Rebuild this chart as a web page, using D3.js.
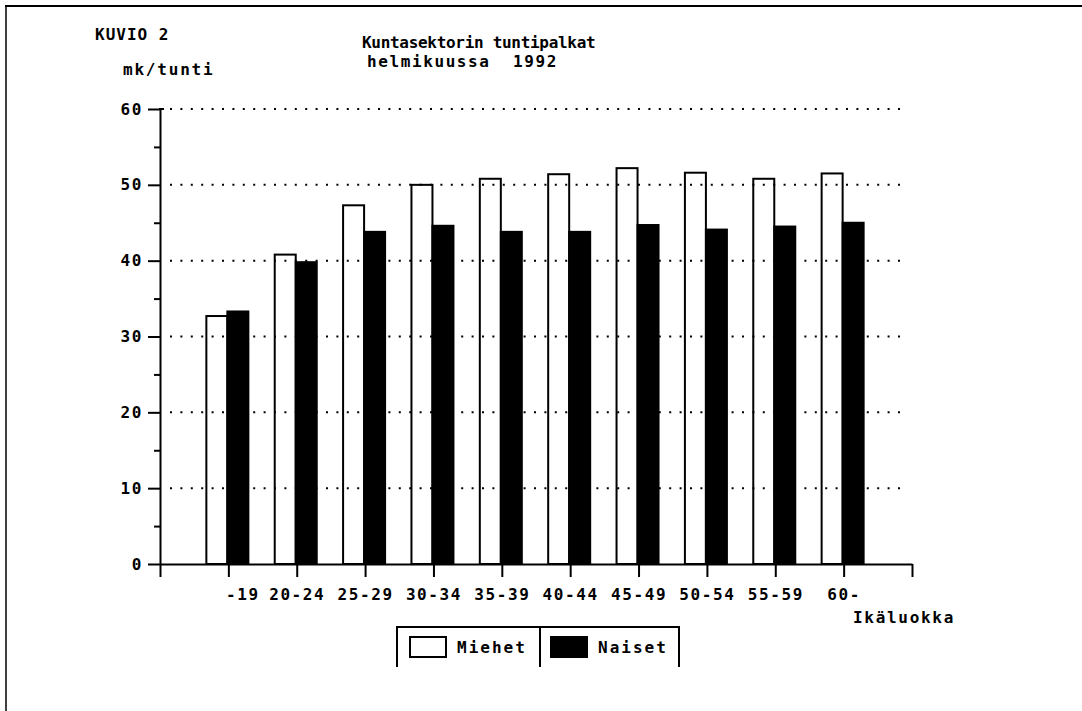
<!DOCTYPE html>
<html>
<head>
<meta charset="utf-8">
<script src="https://cdn.jsdelivr.net/npm/d3@7"></script>
<style>
  body { margin: 0; background: #fff; }
  svg text { font-family: "DejaVu Sans Mono", monospace; font-weight: bold; fill: #000; white-space: pre; }
</style>
</head>
<body>
<svg id="chart" width="1082" height="711"></svg>
<script>
//age groups along the x axis
let categories = ['-19', '20-24', '25-29', '30-34', '35-39', '40-44', '45-49', '50-54', '55-59', '60-'];
//hourly pay, mk per hour
let miehet = [32.7, 40.8, 47.3, 50.0, 50.8, 51.4, 52.2, 51.6, 50.8, 51.5];
let naiset = [33.3, 39.8, 43.8, 44.6, 43.8, 43.8, 44.7, 44.1, 44.5, 45.0];
let seriesNames = ['Miehet', 'Naiset'];
let seriesFill = ['#fff', '#000'];
let yTicks = [0, 10, 20, 30, 40, 50, 60];
let yMinorTicks = [5, 15, 25, 35, 45, 55];

let svg = d3.select('#chart');

//scales: x slots 0..11, categories sit on 1..10
let x = d3.scaleLinear().domain([0, categories.length + 1]).range([160, 912]);
let y = d3.scaleLinear().domain([0, 60]).range([564, 109]);
let sub = d3.scaleBand().domain(seriesNames).range([-21, 21]).padding(0);

let data = categories.map((c, i) => ({ cat: c, idx: i + 1, values: [miehet[i], naiset[i]] }));

//outer frame, only top and left edges
svg.append('line').attr('x1', 5).attr('x2', 1082).attr('y1', 6).attr('y2', 6)
  .attr('stroke', '#000').attr('stroke-width', 2);
svg.append('line').attr('x1', 6).attr('x2', 6).attr('y1', 6).attr('y2', 711)
  .attr('stroke', '#000').attr('stroke-width', 1.5);

//titles
svg.append('text').attr('x', 95).attr('y', 40).style('font-size', '16px').style('letter-spacing', '1px').text('KUVIO 2');
svg.append('text').attr('x', 123).attr('y', 75).style('font-size', '16px').style('letter-spacing', '1.8px').text('mk/tunti');
svg.append('text').attr('x', 362).attr('y', 48).style('font-size', '16px').style('letter-spacing', '-0.3px').text('Kuntasektorin tuntipalkat');
svg.append('text').attr('x', 367).attr('y', 67).style('font-size', '16px').style('letter-spacing', '1.6px').text('helmikuussa  1992');

//bars
let groups = svg.append('g').selectAll('g')
  .data(data)
  .join('g')
  .attr('transform', d => 'translate(' + x(d.idx) + ',0)');

groups.selectAll('rect')
  .data(d => d.values.map((v, j) => ({ key: seriesNames[j], value: v, fill: seriesFill[j] })))
  .join('rect')
  .attr('x', d => sub(d.key) - 1)
  .attr('y', d => y(d.value))
  .attr('width', sub.bandwidth())
  .attr('height', d => y(0) - y(d.value))
  .attr('fill', d => d.fill)
  .attr('stroke', '#000')
  .attr('stroke-width', 2);

//dotted gridlines
svg.append('g').selectAll('line')
  .data(yTicks.filter(t => t > 0))
  .join('line')
  .attr('x1', 170)
  .attr('x2', 906)
  .attr('y1', d => y(d))
  .attr('y2', d => y(d))
  .attr('stroke', '#000')
  .attr('stroke-width', 2)
  .attr('stroke-dasharray', '2,8.4');

//y axis
let yAxis = svg.append('g').attr('transform', 'translate(160,0)')
  .call(d3.axisLeft(y).tickValues(yTicks).tickSize(12).tickSizeOuter(0).tickPadding(5));
svg.append('g').attr('transform', 'translate(160,0)')
  .call(d3.axisLeft(y).tickValues(yMinorTicks).tickSize(6).tickFormat(''))
  .select('.domain').remove();
//small hook at the top of the axis
svg.append('line').attr('x1', 159).attr('x2', 164).attr('y1', y(60)).attr('y2', y(60))
  .attr('stroke', '#000').attr('stroke-width', 2);

//x axis
let xAxis = svg.append('g').attr('transform', 'translate(0,564)')
  .call(d3.axisBottom(x).tickValues(d3.range(0, categories.length + 2)).tickSize(13).tickSizeOuter(0).tickPadding(12)
    .tickFormat(i => (i >= 1 && i <= categories.length) ? categories[i - 1] : ''));
xAxis.selectAll('.tick text').filter(i => i === 1).attr('dx', 14);

svg.selectAll('.domain, .tick line').attr('stroke', '#000').attr('stroke-width', 2);
svg.selectAll('.tick text').style('font-size', '16px').style('letter-spacing', '1.6px').attr('font-family', null);

svg.append('text').attr('x', 853).attr('y', 623).style('font-size', '16px').style('letter-spacing', '1.7px').text('Ikäluokka');

//legend, open at the bottom
let legend = svg.append('g');
legend.append('path')
  .attr('d', 'M397,667 V627 H679 V667 M540,627 V667')
  .attr('fill', 'none').attr('stroke', '#000').attr('stroke-width', 2);
let legendItems = [
  { name: seriesNames[0], fill: seriesFill[0], x: 410 },
  { name: seriesNames[1], fill: seriesFill[1], x: 551 }
];
legend.selectAll('rect').data(legendItems).join('rect')
  .attr('x', d => d.x).attr('y', 637).attr('width', 36).attr('height', 20)
  .attr('fill', d => d.fill).attr('stroke', '#000').attr('stroke-width', 2);
legend.selectAll('text.lbl').data(legendItems).join('text')
  .attr('class', 'lbl')
  .attr('x', d => d.x + 47).attr('y', 653)
  .style('font-size', '16px').style('letter-spacing', '2px')
  .text(d => d.name);
</script>
</body>
</html>
